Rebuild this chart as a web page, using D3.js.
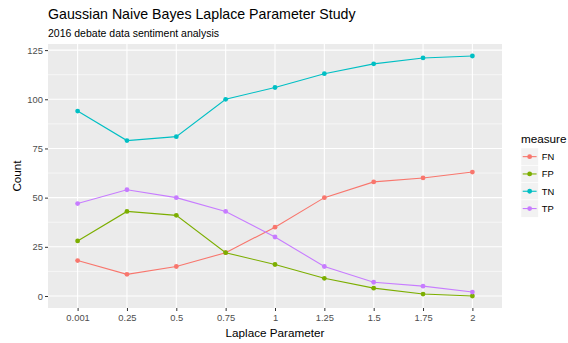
<!DOCTYPE html>
<html>
<head>
<meta charset="utf-8">
<script src="https://cdn.jsdelivr.net/npm/d3@7"></script>
<style>
  body { margin: 0; background: #fff; }
  text { font-family: "Liberation Sans", Arial, sans-serif; }
</style>
</head>
<body>
<div id="chart"></div>
<script>
const WIDTH = 568, HEIGHT = 343;
const PANEL = { left: 48, right: 502, top: 44, bottom: 308 };

// data
const laplace = ["0.001", "0.25", "0.5", "0.75", "1", "1.25", "1.5", "1.75", "2"];
const measures = ["FN", "FP", "TN", "TP"];
const fnValues = [18, 11, 15, 22, 35, 50, 58, 60, 63];
const fpValues = [28, 43, 41, 22, 16, 9, 4, 1, 0];
const tnValues = [94, 79, 81, 100, 106, 113, 118, 121, 122];
const tpValues = [47, 54, 50, 43, 30, 15, 7, 5, 2];
const yTicks = [0, 25, 50, 75, 100, 125];
const colors = ["#F8766D", "#7CAE00", "#00BFC4", "#C77CFF"];

const seriesList = [fnValues, fpValues, tnValues, tpValues].map((vals, i) => ({
    name: measures[i], color: colors[i],
    points: vals.map((v, j) => ({ x: laplace[j], y: v }))
}));

const svg = d3.select("#chart").append("svg")
    .attr("width", WIDTH).attr("height", HEIGHT);

// discrete x scale with ggplot style 0.6 expansion
const xStep = (PANEL.right - PANEL.left) / (laplace.length - 1 + 1.2);
const x = d3.scalePoint().domain(laplace)
    .range([PANEL.left + 0.6 * xStep, PANEL.right - 0.6 * xStep]);

const allVals = [].concat(fnValues, fpValues, tnValues, tpValues);
const yMin = d3.min(allVals), yMax = d3.max(allVals);
const pad = (yMax - yMin) * 0.05;
const y = d3.scaleLinear().domain([yMin - pad, yMax + pad])
    .range([PANEL.bottom, PANEL.top]);

// panel background
svg.append("rect")
    .attr("x", PANEL.left).attr("y", PANEL.top)
    .attr("width", PANEL.right - PANEL.left).attr("height", PANEL.bottom - PANEL.top)
    .attr("fill", "#EBEBEB");

// minor y grid (halfway between major ticks)
const minor = yTicks.slice(0, -1).map(t => t + 12.5);
svg.append("g").selectAll("line").data(minor).join("line")
    .attr("x1", PANEL.left).attr("x2", PANEL.right)
    .attr("y1", d => y(d)).attr("y2", d => y(d))
    .attr("stroke", "#fff").attr("stroke-width", 0.55);
// major grid
svg.append("g").selectAll("line").data(yTicks).join("line")
    .attr("x1", PANEL.left).attr("x2", PANEL.right)
    .attr("y1", d => y(d)).attr("y2", d => y(d))
    .attr("stroke", "#fff").attr("stroke-width", 1.1);
svg.append("g").selectAll("line").data(laplace).join("line")
    .attr("y1", PANEL.top).attr("y2", PANEL.bottom)
    .attr("x1", d => x(d)).attr("x2", d => x(d))
    .attr("stroke", "#fff").attr("stroke-width", 1.1);

// axes
const yAxisG = svg.append("g")
    .attr("transform", "translate(" + PANEL.left + ",0)")
    .call(d3.axisLeft(y).tickValues(yTicks).tickSize(3).tickPadding(2));
const xAxisG = svg.append("g")
    .attr("transform", "translate(0," + PANEL.bottom + ")")
    .call(d3.axisBottom(x).tickSize(3).tickPadding(3));
[yAxisG, xAxisG].forEach(g => {
    g.select(".domain").remove();
    g.selectAll(".tick line").attr("stroke", "#333").attr("stroke-width", 1);
    g.selectAll(".tick text").attr("fill", "#4D4D4D")
        .style("font-size", "9.4px").style("font-family", "Liberation Sans, Arial, sans-serif");
});

// lines and points
const line = d3.line().x(d => x(d.x)).y(d => y(d.y));
const g = svg.append("g");
seriesList.forEach(s => {
    g.append("path").datum(s.points)
        .attr("d", line)
        .attr("fill", "none")
        .attr("stroke", s.color)
        .attr("stroke-width", 1.1);
    g.append("g").selectAll("circle").data(s.points).join("circle")
        .attr("cx", d => x(d.x)).attr("cy", d => y(d.y))
        .attr("r", 2.4).attr("fill", s.color);
});

// titles
svg.append("text").attr("x", PANEL.left).attr("y", 19)
    .style("font-size", "14.2px").attr("fill", "#000")
    .text("Gaussian Naive Bayes Laplace Parameter Study");
svg.append("text").attr("x", PANEL.left).attr("y", 37)
    .style("font-size", "10.5px").attr("fill", "#000")
    .text("2016 debate data sentiment analysis");
svg.append("text").attr("x", (PANEL.left + PANEL.right) / 2).attr("y", 337)
    .attr("text-anchor", "middle").style("font-size", "11.7px").attr("fill", "#000")
    .text("Laplace Parameter");
svg.append("text")
    .attr("transform", "translate(21," + (PANEL.top + PANEL.bottom) / 2 + ") rotate(-90)")
    .attr("text-anchor", "middle").style("font-size", "11.7px").attr("fill", "#000")
    .text("Count");

// legend
const LEGEND_X = 521, LEGEND_Y = 148, KEY = 17.3;
svg.append("text").attr("x", LEGEND_X).attr("y", 142.5)
    .style("font-size", "11.7px").attr("fill", "#000").text("measure");
const leg = svg.append("g").selectAll("g").data(seriesList).join("g")
    .attr("transform", (d, i) => "translate(" + LEGEND_X + "," + (LEGEND_Y + i * KEY) + ")");
leg.append("rect").attr("width", KEY).attr("height", KEY)
    .attr("fill", "#F2F2F2").attr("stroke", "#fff").attr("stroke-width", 0.5);
leg.append("line").attr("x1", 1.7).attr("x2", KEY - 1.7)
    .attr("y1", KEY / 2).attr("y2", KEY / 2)
    .attr("stroke", d => d.color).attr("stroke-width", 1.1);
leg.append("circle").attr("cx", KEY / 2).attr("cy", KEY / 2).attr("r", 2.4)
    .attr("fill", d => d.color);
leg.append("text").attr("x", KEY + 3.5).attr("y", KEY / 2 + 3.4)
    .style("font-size", "9.4px").attr("fill", "#000").text(d => d.name);
</script>
</body>
</html>
